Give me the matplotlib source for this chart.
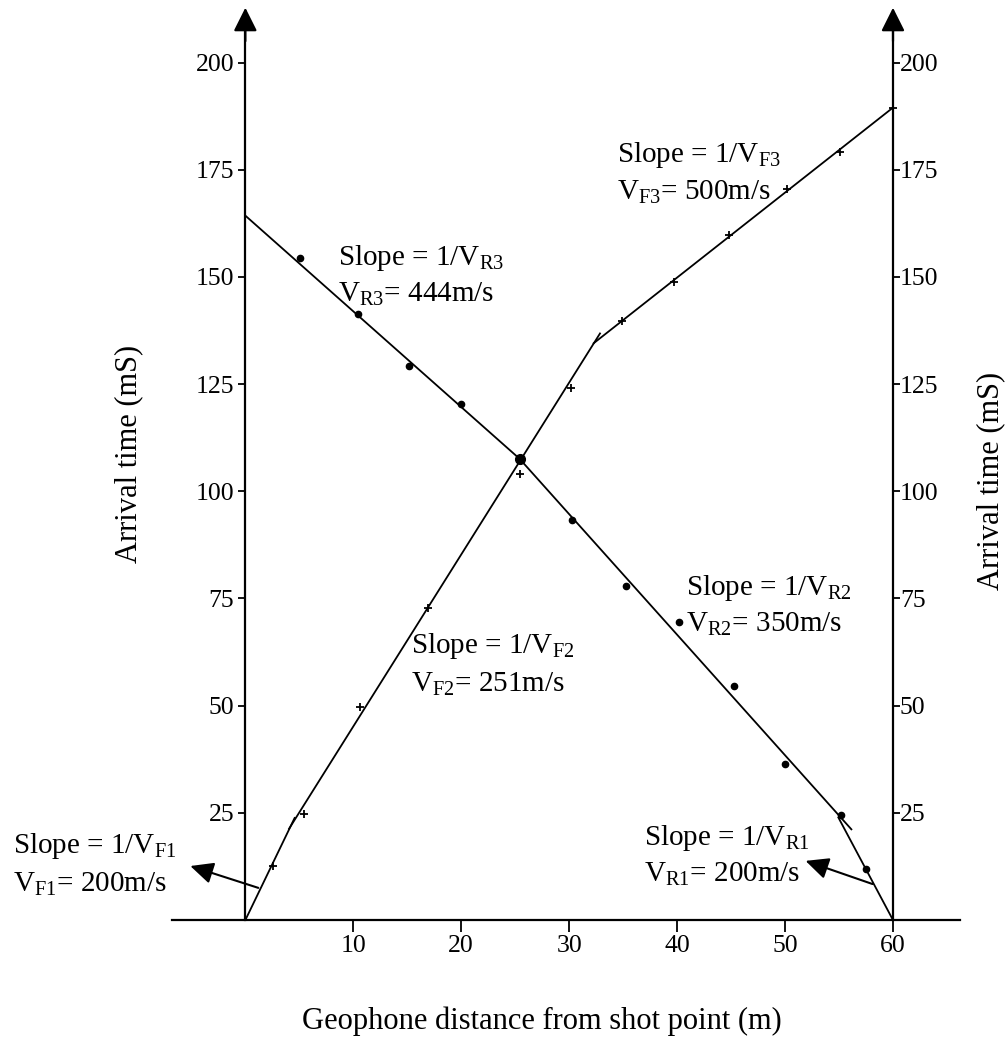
import matplotlib
matplotlib.use("Agg")
import matplotlib.pyplot as plt

plt.rcParams['font.family'] = 'Liberation Serif'
plt.rcParams['mathtext.fontset'] = 'custom'
plt.rcParams['mathtext.rm'] = 'Liberation Serif'
plt.rcParams['mathtext.it'] = 'Liberation Serif:italic'

# forward shot arrival times (+)
fwd_x = [2.6, 5.4, 10.6, 16.9, 25.4, 30.2, 34.9, 39.7, 44.8, 50.2, 55.1, 60.0]
fwd_t = [12.6, 24.7, 49.7, 72.8, 104.1, 124.2, 139.8, 148.9, 159.9, 170.4, 179.2, 189.3]

# reverse shot arrival times (dots)
rev_x = [5.1, 10.4, 15.2, 20.0, 25.4, 30.3, 35.3, 40.2, 45.3, 50.0, 55.2, 57.5]
rev_t = [154.5, 141.4, 129.3, 120.4, 107.6, 93.3, 78.0, 69.5, 54.5, 36.4, 24.5, 11.9]

# fitted segments (end points)
seg_names = ['F1', 'F2', 'F3', 'R1', 'R2', 'R3']
seg_x = [[0, 4.6], [4.0, 32.9], [32.2, 60.0], [54.9, 60.0], [25.4, 56.2], [0, 25.4]]
seg_t = [[0, 24.0], [21.1, 137.0], [134.4, 189.5], [24.1, 0], [107.6, 21.0], [164.3, 107.6]]
velocities = [200, 251, 500, 200, 350, 444]

yticks = [25, 50, 75, 100, 125, 150, 175, 200]
xticks = [10, 20, 30, 40, 50, 60]

# label placement: left x, baseline of line 1, baseline of line 2
label_pos = {
    'F1': (-21.5, 15.6, 6.5),
    'F2': (15.3, 62.3, 53.2),
    'F3': (34.4, 176.7, 168.0),
    'R1': (36.9, 17.5, 8.9),
    'R2': (40.8, 75.9, 67.3),
    'R3': (8.6, 152.9, 144.2),
}
# pointer arrows (tail on line -> head near label)
pointers = {'F1': ((1.2, 7.5), (-5.1, 12.6)), 'R1': ((58.1, 8.4), (51.9, 13.8))}

fig = plt.figure(figsize=(10.08, 10.39), dpi=100)
ax = fig.add_axes([0.1706, 0.1145, 0.7817, 0.8624])
ax.set_xlim(-6.8, 66.2)
ax.set_ylim(0, 209)

for sx, st in zip(seg_x, seg_t):
    ax.plot(sx, st, color='black', lw=1.3, solid_capstyle='butt')

ax.plot(fwd_x, fwd_t, '+', color='black', ms=6, mew=1.3)
ax.plot(rev_x, rev_t, 'o', color='black', ms=4.5)
ax.plot(rev_x[4], rev_t[4], 'o', color='black', ms=7)

for name, v in zip(seg_names, velocities):
    x0, y1, y2 = label_pos[name]
    ax.text(x0, y1, r'Slope = 1/V$_{\mathrm{%s}}$' % name, fontsize=21, va='baseline', ha='left')
    ax.text(x0, y2, r'V$_{\mathrm{%s}}$= %dm/s' % (name, v), fontsize=21, va='baseline', ha='left')

for name, (tail, head) in pointers.items():
    ax.annotate('', xy=head, xytext=tail,
                arrowprops=dict(arrowstyle='-|>,head_length=0.7,head_width=0.33',
                                color='black', lw=1.5, mutation_scale=20,
                                shrinkA=0, shrinkB=0))

# left / bottom axes
ax.spines['top'].set_visible(False)
ax.spines['right'].set_visible(False)
ax.spines['left'].set_position(('data', 0))
for side in ['left', 'bottom']:
    ax.spines[side].set_linewidth(1.6)
ax.set_yticks(yticks)
ax.set_xticks(xticks)
ax.tick_params(axis='y', direction='out', length=5, width=1.3, labelsize=18.5, pad=3)
ax.tick_params(axis='x', direction='out', length=8.5, width=1.3, labelsize=18.5, pad=2)

# right axis at x = 60
ax2 = ax.twinx()
ax2.set_ylim(ax.get_ylim())
for side in ['top', 'left', 'bottom']:
    ax2.spines[side].set_visible(False)
ax2.spines['right'].set_position(('data', 60))
ax2.spines['right'].set_linewidth(1.6)
ax2.set_yticks(yticks)
ax2.tick_params(axis='y', direction='out', length=5, width=1.3, labelsize=18.5, pad=0)

# arrow heads on top of the vertical axes
for xv in [0, 60]:
    ax.annotate('', xy=(xv, 212.8), xytext=(xv, 205),
                arrowprops=dict(arrowstyle='-|>,head_length=0.8,head_width=0.4',
                                color='black', lw=1.6, mutation_scale=18,
                                shrinkA=0, shrinkB=0),
                annotation_clip=False)

fig.text(542 / 1008, 1 - 1021 / 1039, 'Geophone distance from shot point (m)',
         fontsize=22, ha='center', va='center')
fig.text(128.5 / 1008, 1 - 454 / 1039, 'Arrival time (mS)', fontsize=22,
         rotation=90, ha='center', va='center')
fig.text(991 / 1008, 1 - 481 / 1039, 'Arrival time (mS)', fontsize=22,
         rotation=90, ha='center', va='center')

fig.savefig('out.png', dpi=100)
